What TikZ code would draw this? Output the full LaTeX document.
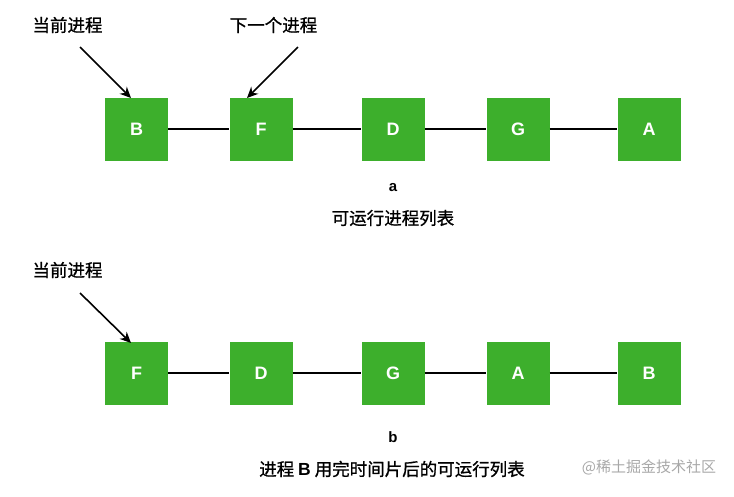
\documentclass[tikz,border=0pt]{standalone}
\usepackage{fontspec}
\usetikzlibrary{arrows.meta}
\setmainfont{Liberation Sans}
\newfontfamily\cjk[FakeBold=0.9]{Noto Sans CJK SC}
\newfontfamily\cjkwm{Noto Sans CJK SC}
\definecolor{boxgreen}{HTML}{3DAF2C}
\definecolor{wmgray}{HTML}{A8A8A8}
\begin{document}
\begin{tikzpicture}[x=1pt,y=-1pt,
  proc/.style={draw=none,fill=boxgreen,minimum width=63pt,minimum height=63pt,inner sep=0pt,text=white,font=\bfseries\fontsize{18}{18}\selectfont},
  lbl/.style={font=\cjk\fontsize{17.5}{17.5}\selectfont,inner sep=0pt},
  captag/.style={font=\bfseries\fontsize{15}{15}\selectfont,inner sep=0pt},
  link/.style={line width=1.3pt},
  ptr/.style={line width=1.6pt,-{Stealth[length=11pt,width=10pt]}}]
\useasboundingbox (0,0) rectangle (734,496);
% row a
\node[proc] (a1) at (136.5,129) {B};
\node[proc] (a2) at (261,129) {F};
\node[proc] (a3) at (393,129) {D};
\node[proc] (a4) at (518,129) {G};
\node[proc] (a5) at (649,129) {A};
\draw[link] (a1) -- (a2) (a2) -- (a3) (a3) -- (a4) (a4) -- (a5);
\node[lbl] (cur1) at (67.5,25) {当前进程};
\node[lbl] (nxt) at (273.5,25) {下一个进程};
\coordinate (c1s) at (80,47);
\coordinate (c1e) at (131,98);
\coordinate (n1s) at (298,47);
\coordinate (n1e) at (247,98);
\draw[ptr] (c1s) -- (c1e);
\draw[ptr] (n1s) -- (n1e);
\node[captag] (capa) at (393,188) {a};
\node[lbl] (capat) at (393,218) {可运行进程列表};
% row b
\node[proc] (b1) at (136.5,373) {F};
\node[proc] (b2) at (261,373) {D};
\node[proc] (b3) at (393,373) {G};
\node[proc] (b4) at (518,373) {A};
\node[proc] (b5) at (649,373) {B};
\draw[link] (b1) -- (b2) (b2) -- (b3) (b3) -- (b4) (b4) -- (b5);
\node[lbl] (cur2) at (67.5,270) {当前进程};
\coordinate (c2s) at (80,293);
\coordinate (c2e) at (131,343);
\draw[ptr] (c2s) -- (c2e);
\node[captag] (capb) at (393,437) {b};
\node[lbl] (capbt) at (392,469) {进程 {\rmfamily\bfseries B} 用完时间片后的可运行列表};
\node[font=\cjkwm\fontsize{15}{15}\selectfont,text=wmgray,inner sep=0pt] (wm) at (649,467) {@稀土掘金技术社区};
\end{tikzpicture}
\end{document}
